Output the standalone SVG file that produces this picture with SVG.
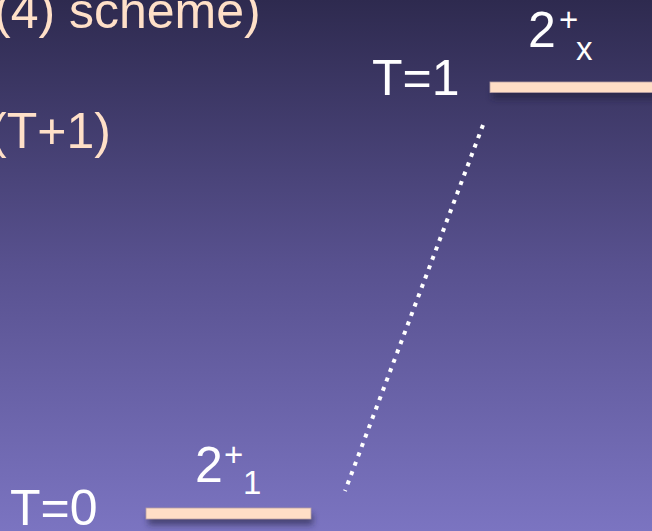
<svg xmlns="http://www.w3.org/2000/svg" width="652" height="531" viewBox="0 0 652 531">
  <defs>
    <linearGradient id="bg" x1="0" y1="0" x2="0" y2="1">
      <stop offset="0" stop-color="#2e2a4f"/>
      <stop offset="0.5" stop-color="#58518f"/>
      <stop offset="1" stop-color="#7b74c1"/>
    </linearGradient>
    <filter id="shadow" x="-10%" y="-100%" width="120%" height="400%">
      <feGaussianBlur stdDeviation="3"/>
    </filter>
    <style>
      .peach { font-family: "Liberation Sans", Arial, sans-serif; font-size: 50px; fill: #ffe0c8; }
      .label { font-family: "Liberation Sans", Arial, sans-serif; font-size: 50px; fill: #ffffff; }
      .small { font-family: "Liberation Sans", Arial, sans-serif; font-size: 33px; fill: #ffffff; }
      .bar { fill: #ffdec6; stroke: #b8a0a4; stroke-width: 0.8; }
      .barshadow { fill: #1e1a38; opacity: 0.55; filter: url(#shadow); }
      .dotted { stroke: #ffffff; stroke-width: 4; stroke-dasharray: 4 6; fill: none; }
    </style>
  </defs>
  <rect x="0" y="0" width="652" height="531" fill="url(#bg)"/>

  <g id="title-text">
    <text class="peach" x="-6" y="28">(4) scheme)</text>
    <text class="peach" x="-10" y="148">(T+1)</text>
  </g>

  <g id="level-T1">
    <rect class="barshadow" x="492" y="88" width="165" height="11"/>
    <rect class="bar" x="490" y="82" width="166" height="10.5"/>
    <text class="label" x="372" y="95">T=1</text>
    <text class="label" x="528" y="47">2</text>
    <text class="small" x="559" y="31">+</text>
    <text class="small" x="576" y="60">x</text>
  </g>

  <g id="level-T0">
    <rect class="barshadow" x="148" y="514" width="165" height="11"/>
    <rect class="bar" x="146" y="508" width="165" height="11"/>
    <text class="label" x="10" y="525">T=0</text>
    <text class="label" x="195" y="482">2</text>
    <text class="small" x="224" y="466">+</text>
    <text class="small" x="243" y="494">1</text>
  </g>

  <g id="connectors">
    <line class="dotted" x1="483" y1="125" x2="345" y2="491"/>
  </g>
</svg>
